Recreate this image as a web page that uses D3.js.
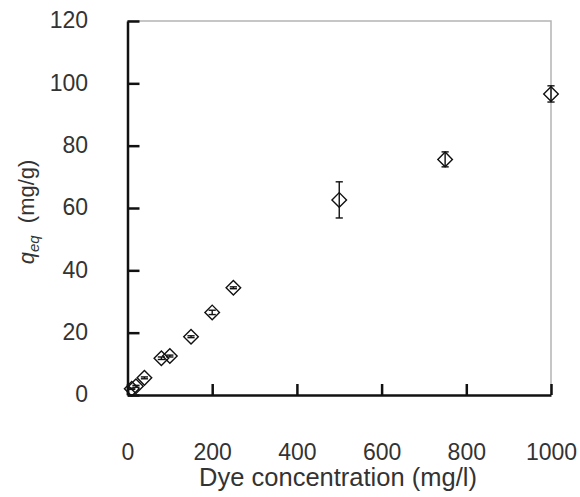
<!DOCTYPE html>
<html>
<head>
<meta charset="utf-8">
<script src="https://cdn.jsdelivr.net/npm/d3@7"></script>
<style>
  body { margin: 0; background: #fff; }
  text { font-family: "Liberation Sans", Arial, sans-serif; fill: #333; }
</style>
</head>
<body>
<svg id="viz" width="580" height="497"></svg>
<script>
// data
const conc = [10, 20, 40, 80, 100, 150, 200, 250, 500, 750, 1000]
const qeq = [2.0, 2.8, 5.5, 11.8, 12.5, 18.7, 26.5, 34.4, 62.6, 75.6, 96.6]
const qerr = [0.2, 0.3, 0.3, 0.4, 0.3, 0.3, 0.7, 0.3, 5.8, 2.4, 2.6]
const xTicks = [0, 200, 400, 600, 800, 1000]
const yTicks = [0, 20, 40, 60, 80, 100, 120]

const MARGIN = {top: 21, bottom: 102, left: 127.5, right: 29}
var svg = d3.select("svg#viz")
const width = +svg.attr('width')
const height = +svg.attr('height')
const m_width = width - (MARGIN.left + MARGIN.right)
const m_height = height - (MARGIN.top + MARGIN.bottom)
const chart = svg.append('g').attr("transform", `translate(${MARGIN.left}, ${MARGIN.top})`)

const pts = conc.map((c, i) => ({x: c, y: qeq[i], e: qerr[i]}))

var x_scale = d3.scaleLinear().domain([0, 1000]).range([0, m_width])
var y_scale = d3.scaleLinear().domain([0, 120]).range([m_height, 0])

// gray frame top and right
chart.append("path")
    .attr("d", `M0,0H${m_width}V${m_height}`)
    .attr("fill", "none")
    .attr("stroke", "#b4b4b4")
    .attr("stroke-width", 1.5)

let x_axis = d3.axisBottom(x_scale).tickValues(xTicks).tickFormat(d3.format("d"))
    .tickSizeInner(-11).tickSizeOuter(0).tickPadding(49)
let y_axis = d3.axisLeft(y_scale).tickValues(yTicks).tickFormat(d3.format("d"))
    .tickSizeInner(-12).tickSizeOuter(0).tickPadding(39.5)

let axes = chart.append("g").attr("class", "axes")
let gx = axes.append('g').attr('transform', `translate(0,${m_height})`).call(x_axis)
let gy = axes.append('g').call(y_axis)

axes.selectAll("path.domain, .tick line").attr("stroke", "#111").attr("stroke-width", 2.5)
axes.selectAll(".tick text").attr("font-size", 23).attr("font-family", '"Liberation Sans", Arial, sans-serif').attr("fill", "#333")
gy.selectAll(".tick text").attr("dy", "0.3em")
gx.selectAll(".tick text").attr("dy", "0.68em")

// error bars
let eb = chart.selectAll("g.err").data(pts).join("g").attr("class", "err")
    .attr("stroke", "#111").attr("stroke-width", 1.4)
eb.append("line")
    .attr("x1", d => x_scale(d.x)).attr("x2", d => x_scale(d.x))
    .attr("y1", d => y_scale(d.y + d.e)).attr("y2", d => y_scale(d.y - d.e))
eb.append("line")
    .attr("x1", d => x_scale(d.x) - 3.6).attr("x2", d => x_scale(d.x) + 3.6)
    .attr("y1", d => y_scale(d.y + d.e)).attr("y2", d => y_scale(d.y + d.e))
eb.append("line")
    .attr("x1", d => x_scale(d.x) - 3.6).attr("x2", d => x_scale(d.x) + 3.6)
    .attr("y1", d => y_scale(d.y - d.e)).attr("y2", d => y_scale(d.y - d.e))

// diamond markers
chart.selectAll("path.pt").data(pts)
    .join("path")
    .attr("class", "pt")
    .attr("d", d3.symbol(d3.symbolSquare, 106))
    .attr("transform", d => `translate(${x_scale(d.x)},${y_scale(d.y)}) rotate(45)`)
    .attr("fill", "none")
    .attr("stroke", "#111")
    .attr("stroke-width", 1.4)

// axis titles
svg.append("text")
    .attr("x", 338)
    .attr("y", 486)
    .attr("text-anchor", "middle")
    .attr("font-size", 25.5)
    .text("Dye concentration (mg/l)")

let yl = svg.append("text")
    .attr("transform", "translate(34,212) rotate(-90)")
    .attr("text-anchor", "middle")
    .attr("font-size", 22)
yl.append("tspan").attr("font-style", "italic").text("q")
yl.append("tspan").attr("font-style", "italic").attr("font-size", 15).attr("dy", 5).text("eq")
yl.append("tspan").attr("dy", -5).attr("xml:space", "preserve").text("  (mg/g)")
</script>
</body>
</html>
